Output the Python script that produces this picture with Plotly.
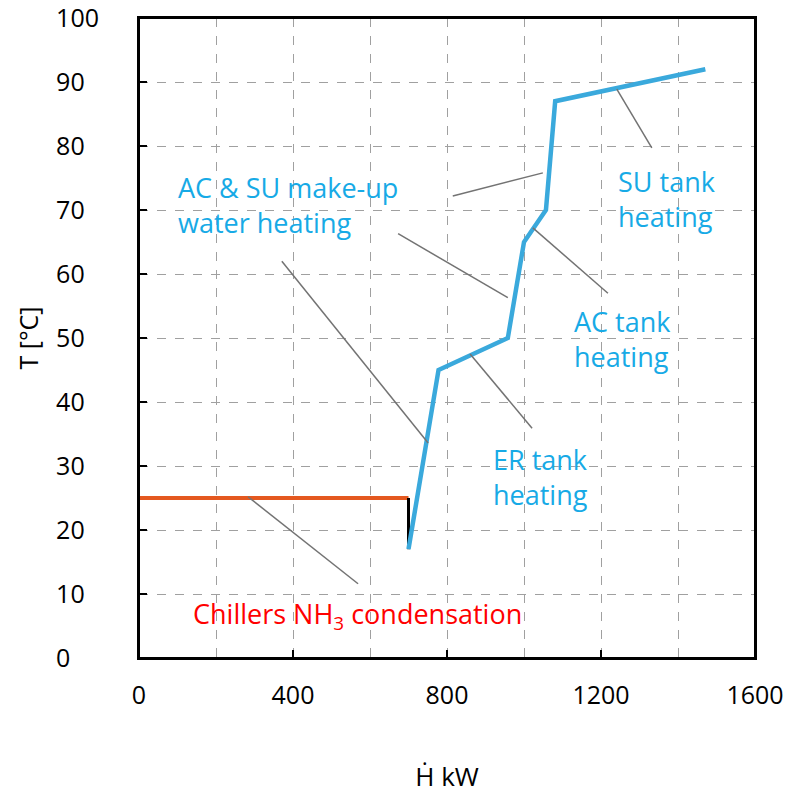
import plotly.graph_objects as go

# Data
hot_H = [0, 700]
hot_T = [25, 25]
drop_H = [700, 700]
drop_T = [25, 17]
cold_H = [700, 778, 958, 1000, 1057, 1081, 1471]
cold_T = [17, 45, 50, 65, 70, 87, 92]

x_ticks = [0, 400, 800, 1200, 1600]
y_ticks = [0, 10, 20, 30, 40, 50, 60, 70, 80, 90, 100]

BLUE_LINE = "#3aa9dc"
BLUE_TXT = "#17aae6"
ORANGE = "#e4581f"
RED = "#ff0000"
GRAY = "#737373"
GRID = "#a0a0a0"
FONT = "Open Sans"

fig = go.Figure()
fig.add_trace(go.Scatter(x=hot_H, y=hot_T, mode="lines",
                         line=dict(color=ORANGE, width=4), showlegend=False))
fig.add_trace(go.Scatter(x=drop_H, y=drop_T, mode="lines",
                         line=dict(color="black", width=3), showlegend=False))
fig.add_trace(go.Scatter(x=cold_H, y=cold_T, mode="lines",
                         line=dict(color=BLUE_LINE, width=4.5), showlegend=False))

leaders = [
    (1241, 88.9, 1332, 79.7),
    (815, 72.2, 1049, 75.8),
    (673, 66.3, 958, 56.3),
    (371, 62.0, 751, 33.6),
    (1023, 67.2, 1218, 57.0),
    (860, 47.5, 1021, 35.9),
    (283, 25.2, 569, 11.6),
]
for x0, y0, x1, y1 in leaders:
    fig.add_shape(type="line", x0=x0, y0=y0, x1=x1, y1=y1, xref="x", yref="y",
                  line=dict(color=GRAY, width=1.5), layer="above")

# plot frame
fig.add_shape(type="rect", x0=0, y0=0, x1=1, y1=1, xref="x domain", yref="y domain",
              line=dict(color="black", width=2), layer="above")

labels = [
    ("AC & SU make-up<br>water heating", 96, 70.8, BLUE_TXT),
    ("SU tank<br>heating", 1238, 71.7, BLUE_TXT),
    ("AC tank<br>heating", 1124, 49.8, BLUE_TXT),
    ("ER tank<br>heating", 914, 28.3, BLUE_TXT),
    ("Chillers NH<sub>3</sub> condensation", 135, 6.7, RED),
]
for txt, x, y, c in labels:
    fig.add_annotation(x=x, y=y, xref="x", yref="y", text=txt, showarrow=False,
                       xanchor="left", yanchor="middle", align="left",
                       font=dict(family=FONT, size=27, color=c))

axis_common = dict(showline=True, linecolor="black", linewidth=2, mirror=True,
                   ticks="inside", ticklen=8, tickwidth=2, tickcolor="black",
                   showgrid=True, gridcolor=GRID, griddash="dash", gridwidth=1,
                   zeroline=False, automargin=False, ticklabeloverflow="allow",
                   tickfont=dict(family=FONT, size=25, color="black"))

# left-aligned y tick labels (pad with figure spaces)
y_text = [str(v) + "\u2007" * (3 - len(str(v))) for v in y_ticks]

fig.update_xaxes(range=[0, 1600], tickvals=x_ticks, ticktext=[str(v) for v in x_ticks],
                 minor=dict(tickvals=[200, 600, 1000, 1400], showgrid=True,
                            gridcolor=GRID, griddash="dash", gridwidth=1, ticks=""),
                 ticklabelstandoff=14,
                 title=dict(text="Ḣ kW", font=dict(family=FONT, size=26, color="black"),
                            standoff=64),
                 **axis_common)
fig.update_yaxes(range=[0, 100], tickvals=y_ticks, ticktext=y_text,
                 ticklabelstandoff=33,
                 title=dict(text="T [°C]", font=dict(family=FONT, size=25, color="black"),
                            standoff=10),
                 **axis_common)

fig.update_layout(width=789, height=794, margin=dict(l=139, r=34, t=18, b=136),
                  plot_bgcolor="white", paper_bgcolor="white", showlegend=False)

fig.write_html("out.html", config={"displayModeBar": False},
               post_script="document.body.style.margin='0px';document.body.style.overflow='hidden';")
